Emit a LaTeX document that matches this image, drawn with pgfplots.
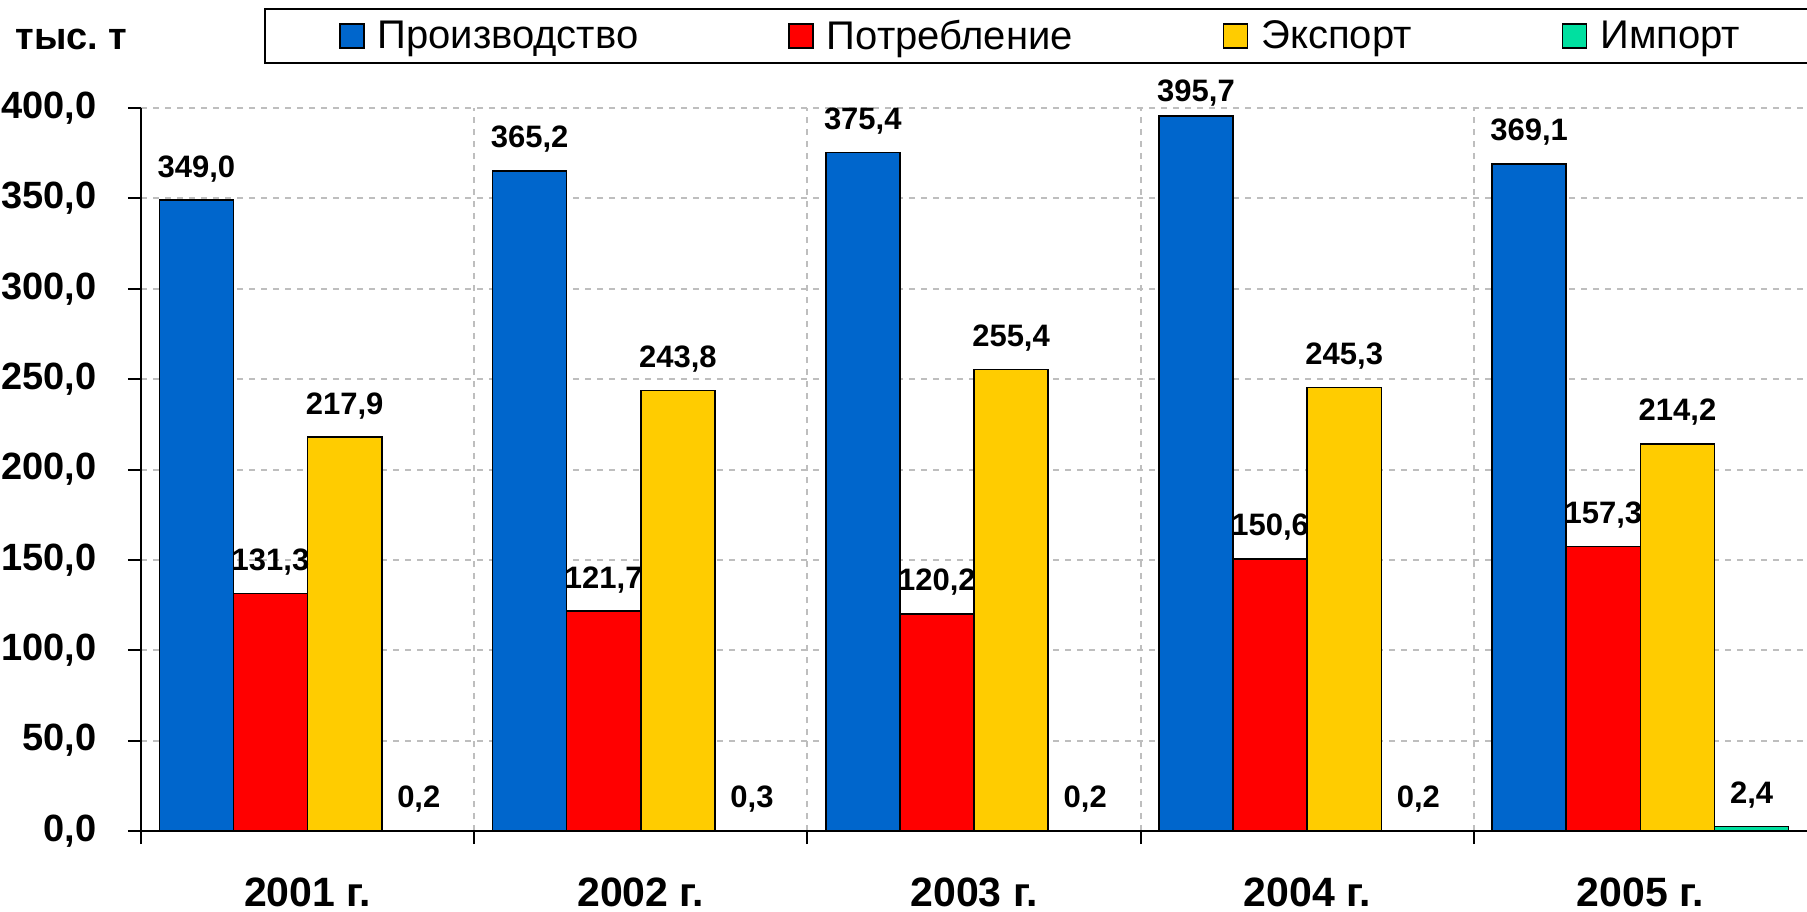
\documentclass[border=0pt]{standalone}
\usepackage{fontspec}
\setmainfont{Liberation Sans}
\usepackage{pgfplots}
\pgfplotsset{compat=1.18}
\definecolor{cblue}{RGB}{0,102,204}
\definecolor{cred}{RGB}{255,0,0}
\definecolor{cyellow}{RGB}{255,204,0}
\definecolor{cgreen}{RGB}{0,224,160}
\definecolor{cgrid}{RGB}{190,190,190}
\pgfplotsset{
  sqlegend/.style={legend image code/.code={\draw[##1, draw=black, line width=0.8pt] (0pt,-6pt) rectangle (12pt,6pt);}},
}
\pgfplotsset{/pgf/number format/.cd, fixed, fixed zerofill, precision=1, use comma, assume math mode=true}
\begin{document}
\begin{tikzpicture}
\useasboundingbox (0,0) rectangle (903.5pt,455.5pt);
\begin{axis}[
  at={(70.5pt,40pt)}, anchor=south west,
  scale only axis, width=833pt, height=361.5pt,
  xmin=-0.5, xmax=4.5, ymin=0, ymax=400,
  clip=false,
  axis lines*=left,
  axis line style={line width=1pt, black},
  ybar, bar width=0.2225,
  ytick={0,50,...,400},
  xtick={-0.5,0.5,1.5,2.5,3.5},
  xticklabels={},
  extra x ticks={0,1,2,3,4},
  extra x tick labels={2001 г.,2002 г.,2003 г.,2004 г.,2005 г.},
  extra x tick style={major tick length=0pt, grid=none, xticklabel style={anchor=base, yshift=-37.5pt, font=\fontsize{20.5}{20.5}\selectfont\bfseries}},
  xmajorgrids, ymajorgrids,
  grid style={cgrid, dash pattern=on 3pt off 3pt, line width=1pt},
  tick align=outside, major tick length=6.5pt,
  tick style={black, line width=1pt},
  ticklabel style={font=\fontsize{19}{23}\selectfont\bfseries},
  yticklabel style={anchor=east, inner sep=0pt, xshift=-15.5pt},
  nodes near coords,
  visualization depends on={rawy \as \rawy},
  every node near coord/.append style={font=\fontsize{15.5}{18}\selectfont\bfseries, anchor=south, inner sep=0pt, yshift={(\rawy>390)?4.5:8.7}, black},
  legend columns=4,
  legend style={at={(0.0738,1.1383)}, anchor=north west, draw=black, line width=1pt,
    font=\fontsize{20}{24}\selectfont, inner xsep=37pt, inner ysep=5.5pt,
    nodes={inner sep=0pt},
    /tikz/every odd column/.append style={column sep=6.5pt},
    /tikz/every even column/.append style={column sep=75pt}},
]
\addplot[fill=cblue, draw=black, line width=0.8pt, bar shift=-0.33375, sqlegend] coordinates {(0,349.0) (1,365.2) (2,375.4) (3,395.7) (4,369.1)};
\addplot[fill=cred, draw=black, line width=0.8pt, bar shift=-0.11125, sqlegend] coordinates {(0,131.3) (1,121.7) (2,120.2) (3,150.6) (4,157.3)};
\addplot[fill=cyellow, draw=black, line width=0.8pt, bar shift=0.11125, sqlegend] coordinates {(0,217.9) (1,243.8) (2,255.4) (3,245.3) (4,214.2)};
\addplot[fill=cgreen, draw=black, line width=0.8pt, bar shift=0.33375, sqlegend] coordinates {(0,0.2) (1,0.3) (2,0.2) (3,0.2) (4,2.4)};
\legend{Производство,Потребление,Экспорт,Импорт}
\end{axis}
\node[anchor=base west, font=\fontsize{19}{23}\selectfont\bfseries, inner sep=0pt] at (7.5pt,430.5pt) {тыс.\ т};
\end{tikzpicture}
\end{document}
